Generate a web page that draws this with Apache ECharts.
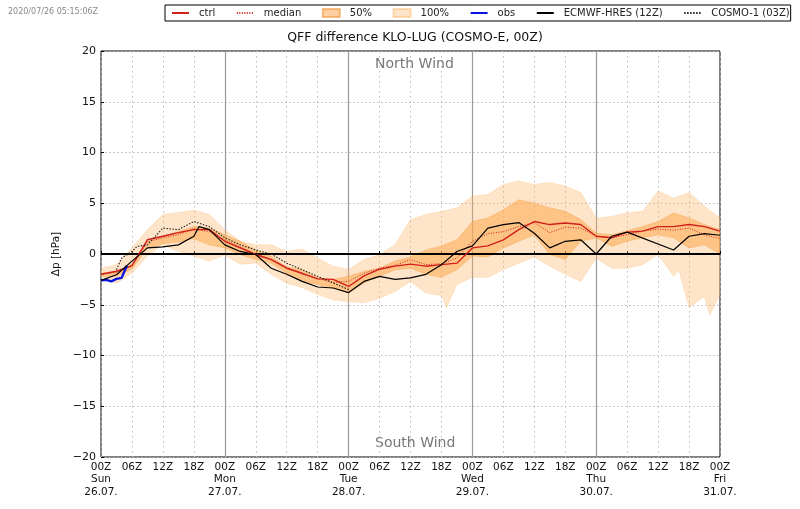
<!DOCTYPE html>
<html>
<head>
<meta charset="utf-8">
<style>
  html, body { margin: 0; padding: 0; background: #fff; }
  #chart { width: 800px; height: 509px; }
</style>
<script src="https://cdn.jsdelivr.net/npm/echarts@6/dist/echarts.min.js"></script>
</head>
<body>
<div id="chart"></div>
<script>
const FONT = "DejaVu Sans";

// x tick labels, every 6 hours from 26.07. 00Z
const xTickLabels = [
  "00Z\nSun\n26.07.", "06Z", "12Z", "18Z",
  "00Z\nMon\n27.07.", "06Z", "12Z", "18Z",
  "00Z\nTue\n28.07.", "06Z", "12Z", "18Z",
  "00Z\nWed\n29.07.", "06Z", "12Z", "18Z",
  "00Z\nThu\n30.07.", "06Z", "12Z", "18Z",
  "00Z\nFri\n31.07."
];
const dayHours = [24, 48, 72, 96];

// 3-hourly lead times used by most series
const hours = [0,3,6,9,12,15,18,21,24,27,30,33,36,39,42,45,48,51,54,57,60,63,66,69,72,75,78,81,84,87,90,93,96,99,102,105,108,111,114,117,120];

// ensemble envelope
const fullHours = [0,3,6,9,12,15,18,21,24,27,30,33,36,39,42,45,48,51,54,57,60,63,66,67,69,72,75,78,81,84,87,90,93,96,99,102,105,108,111,112,114,117,118,120];
const fullLow = [-2.2,-2.9,-1.9,-0.2,0.9,0.25,-0.2,-0.7,-0.1,-1,-0.9,-2,-2.9,-3.3,-4,-4.5,-4.7,-4.8,-4.35,-3.7,-2.7,-3.85,-4.1,-5.3,-3,-2.3,-2.3,-1.55,-0.9,-0.3,-1.2,-2,-2.7,-0.4,-1.4,-1.4,-1.05,-0.05,-2.2,-1.55,-5.25,-4.2,-6,-4];
const fullHigh = [-1.4,-1.05,0.6,2.4,3.9,4.1,4.3,3.9,2.4,1.25,0.9,0.9,0.25,0.5,-0.4,-1.2,-1.55,-0.55,-0.05,0.9,3.4,3.9,4.2,4.3,4.55,5.7,5.85,6.85,7.2,6.85,7.05,6.7,6.05,3.55,3.7,4.05,4.2,6.2,5.5,5.7,6.05,4.7,4.3,3.55];

// interquartile band
const iqrLow = [-2.2,-2.2,-1.5,0.6,1,1.2,1.5,0.9,0.6,-0.05,-0.55,-0.9,-1.9,-2.7,-3,-3.35,-3.85,-2.85,-2.2,-1.55,-1.4,-2,-2.3,-1.55,-0.2,-0.3,0.6,1.25,1.9,-0.05,-0.55,1.25,1.6,0.75,1.25,1.6,1.9,1.6,0.6,0.9,0];
const iqrHigh = [-1.9,-1.7,-1,1.2,1.8,2.2,2.7,2.55,1.9,1.25,0.4,-0.25,-1.3,-1.55,-2.35,-2.5,-2.2,-1.7,-1.4,-0.7,-0.3,0.4,0.8,1.4,3.2,3.55,4.35,5.35,5,4.55,4.2,3.4,2.05,1.9,2.3,2.7,3.2,4.05,3.55,2.9,2.4];

const ctrl = [-2,-1.7,-1.15,1.4,1.75,2.1,2.4,2.4,1.25,0.6,-0.05,-0.55,-1.4,-1.9,-2.45,-2.5,-3.2,-2.15,-1.5,-1.2,-1,-1.2,-1.05,-0.9,0.6,0.8,1.4,2.4,3.2,2.9,3.05,2.9,1.75,1.6,2.15,2.25,2.7,2.7,2.9,2.7,2.25];
const median = [-2,-1.8,-1.2,1.2,1.6,1.9,2.5,2.2,1.4,0.7,0,-0.5,-1.3,-2,-2.4,-2.8,-2.7,-1.9,-1.4,-1.1,-0.55,-1.05,-0.95,-0.4,1.25,2,2.2,2.7,3.1,2.1,2.65,2.55,1.75,1.6,1.9,2.25,2.45,2.35,2.55,1.9,1.5];

const obsHours = [0,1,2,3,4,5];
const obs = [-2.6,-2.55,-2.7,-2.45,-2.35,-1.15];

const ecmwfHours = [0,3,6,9,12,15,18,19,21,24,27,30,33,36,39,42,45,48,51,54,57,60,63,66,69,72,75,78,81,84,87,90,93,96,99,102,111,114,117,120];
const ecmwf = [-2.6,-2.05,-0.7,0.6,0.7,0.9,1.75,2.7,2.4,0.9,0.25,-0.05,-1.4,-2,-2.7,-3.25,-3.35,-3.8,-2.7,-2.2,-2.5,-2.35,-2,-1.05,0.25,0.8,2.55,2.9,3.1,2.05,0.6,1.25,1.4,0,1.75,2.15,0.4,1.75,2,1.85];

const cosmoHours = [3,4,6,7,9,12,15,18,21,24,27,30,33,36,39,42,45,48];
const cosmo = [-1.55,-0.4,0.25,0.75,0.9,2.55,2.4,3.2,2.7,1.6,0.9,0.4,0,-0.9,-1.55,-2.2,-2.85,-3.5];

const zip = (xs, ...cols) => xs.map((x, i) => [x, ...cols.map(c => c[i])]);

// closed polygon from lower and upper edge, placed through the chart's scales
function bandSeries(name, xs, lo, hi, fill, edge, extra) {
  return Object.assign({
    name,
    type: "custom",
    coordinateSystem: "cartesian2d",
    clip: true,
    silent: true,
    data: zip(xs, lo, hi),
    encode: { x: 0, y: [1, 2] },
    itemStyle: { color: fill, borderColor: edge, borderWidth: 1 },
    renderItem(params, api) {
      if (params.dataIndex !== 0) return null;
      const upper = xs.map((x, i) => api.coord([x, hi[i]]));
      const lower = xs.map((x, i) => api.coord([x, lo[i]])).reverse();
      return {
        type: "polygon",
        shape: { points: upper.concat(lower) },
        style: { fill, stroke: edge, lineWidth: 0.6 }
      };
    }
  }, extra);
}

function lineSeries(name, xs, ys, color, width, type) {
  return {
    name,
    type: "line",
    data: zip(xs, ys),
    symbol: "none",
    clip: true,
    silent: true,
    lineStyle: { color, width, type },
    itemStyle: { color }
  };
}

// the line legend entries would otherwise get a dot on top of the line
const noDot = { color: "transparent", borderWidth: 0 };

const chart = echarts.init(document.getElementById("chart"), null, { renderer: "canvas" });
chart.setOption({
  animation: false,
  textStyle: { fontFamily: FONT },
  title: {
    text: "QFF difference KLO-LUG (COSMO-E, 00Z)",
    left: 410, top: 26, textAlign: "center",
    textStyle: { fontFamily: FONT, fontSize: 12.5, fontWeight: "normal", color: "#111" }
  },
  legend: {
    left: 165, top: 5, width: 700,
    padding: [3, 1, 3, 6],
    borderColor: "#000", borderWidth: 1, borderRadius: 0,
    itemWidth: 17, itemHeight: 8, itemGap: 20.5,
    selectedMode: false,
    textStyle: { fontFamily: FONT, fontSize: 10, color: "#222", padding: [0, 0, 0, 5] },
    data: [
      { name: "ctrl", itemStyle: noDot }, { name: "median", itemStyle: noDot },
      { name: "50%", icon: "rect" }, { name: "100%", icon: "rect" },
      { name: "obs", itemStyle: noDot }, { name: "ECMWF-HRES (12Z)", itemStyle: noDot }, { name: "COSMO-1 (03Z)", itemStyle: noDot }
    ]
  },
  graphic: [
    { type: "text", left: 8, top: 8, style: { text: "2020/07/26 05:15:06Z", font: "8px " + FONT, fill: "#888" } },
    { type: "text", left: 375, top: 57, style: { text: "North Wind", font: "14px " + FONT, fill: "#777" } },
    { type: "text", left: 375, top: 436, style: { text: "South Wind", font: "14px " + FONT, fill: "#777" } }
  ],
  grid: { left: 101, right: 80, top: 51, bottom: 52, show: true, borderColor: "#000", borderWidth: 1, backgroundColor: "transparent" },
  xAxis: {
    type: "value", min: 0, max: 120, interval: 6,
    axisLine: { show: false },
    axisTick: { show: true, inside: true, length: 3, lineStyle: { color: "#000" } },
    axisLabel: {
      color: "#111", fontFamily: FONT, fontSize: 10.5, lineHeight: 12.5, margin: 4, hideOverlap: false,
      showMinLabel: true, showMaxLabel: true,
      formatter: v => xTickLabels[v / 6] || ""
    },
    splitLine: { show: true, lineStyle: { color: "#bbb", type: [1.5, 3.5], width: 1 } }
  },
  yAxis: {
    type: "value", min: -20, max: 20, interval: 5,
    name: "Δp [hPa]", nameLocation: "middle", nameGap: 20,
    nameTextStyle: { color: "#111", fontFamily: FONT, fontSize: 10.5 },
    axisLine: { show: false },
    axisTick: { show: true, inside: true, length: 3, lineStyle: { color: "#000" } },
    axisLabel: {
      color: "#111", fontFamily: FONT, fontSize: 11, margin: 5,
      formatter: v => String(v).replace("-", "\u2212")
    },
    splitLine: { show: true, lineStyle: { color: "#bbb", type: [1.5, 2.5], width: 1 } }
  },
  series: [
    bandSeries("100%", fullHours, fullLow, fullHigh, "rgba(252,180,100,0.35)", "rgba(252,180,100,0.45)", {
      markLine: {
        silent: true, symbol: "none", label: { show: false }, animation: false, z: 1,
        lineStyle: { color: "#999", type: "solid", width: 1.2 },
        data: dayHours.map(h => ({ xAxis: h }))
      }
    }),
    bandSeries("50%", hours, iqrLow, iqrHigh, "rgba(253,170,80,0.55)", "rgba(240,150,60,0.6)", {
      markLine: {
        silent: true, symbol: "none", label: { show: false }, animation: false, z: 3,
        lineStyle: { color: "#000", type: "solid", width: 2 },
        data: [{ yAxis: 0 }]
      }
    }),
    lineSeries("ctrl", hours, ctrl, "#d0201c", 1.4, "solid"),
    lineSeries("median", hours, median, "#d0201c", 1, [1, 1.5]),
    lineSeries("obs", obsHours, obs, "#0a14e0", 2.4, "solid"),
    lineSeries("ECMWF-HRES (12Z)", ecmwfHours, ecmwf, "#000", 1.2, "solid"),
    lineSeries("COSMO-1 (03Z)", cosmoHours, cosmo, "#222", 1.1, [1.5, 1.5])
  ]
});

window.addEventListener("resize", () => chart.resize());
</script>
</body>
</html>
